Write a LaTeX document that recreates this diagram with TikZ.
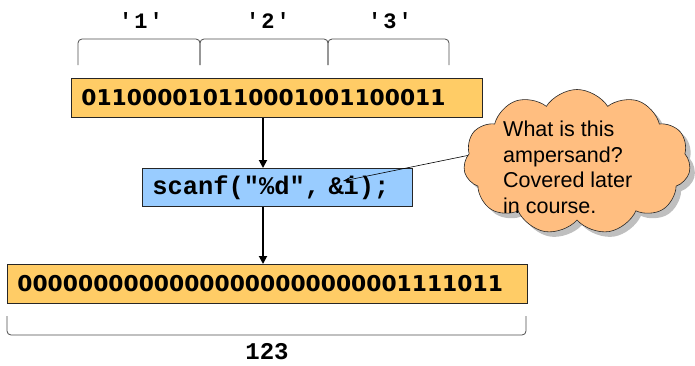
\documentclass[tikz,border=0pt]{standalone}
\usepackage{fontspec}
\usetikzlibrary{shapes.symbols,shadows,arrows.meta,calc}
\newfontfamily\bitfont{DejaVu Sans}
\newfontfamily\codefont{Liberation Mono}
\newfontfamily\lblfont[LetterSpace=9]{Liberation Mono}
\newfontfamily\cloudfont{Liberation Sans}
\definecolor{boxorange}{RGB}{255,204,102}
\definecolor{boxblue}{RGB}{153,204,255}
\definecolor{cloudorange}{RGB}{255,190,128}
\begin{document}
\begin{tikzpicture}[x=1pt,y=-1pt,
  bitbox/.style={draw=black!85, line width=0.8pt, fill=boxorange, minimum height=39pt,
    inner ysep=0pt, inner xsep=10pt, align=left, anchor=north west,
    font=\bitfont\bfseries\fontsize{21.8}{24}\selectfont},
  codebox/.style={draw=black!85, line width=0.8pt, fill=boxblue, minimum height=38pt,
    inner ysep=0pt, inner xsep=10pt, align=left, anchor=north west,
    font=\codefont\bfseries\fontsize{25.4}{27}\selectfont},
  lbl/.style={font=\lblfont\bfseries\fontsize{22}{24}\selectfont, inner sep=0pt},
  brace/.style={draw=black!70, line width=0.8pt, rounded corners=4pt},
  flow/.style={line width=1.8pt, -{Triangle[length=8pt,width=8pt]}},
  callout/.style={line width=0.6pt, -{Stealth[length=8pt,width=5pt]}},
]
\useasboundingbox (0,0) rectangle (695,365);

% braces over top bits
\draw[brace] (78,65) -- (78,39) -- (200,39) -- (200,65);
\draw[brace] (200,65) -- (200,39) -- (328,39) -- (328,65);
\draw[brace] (328,65) -- (328,39) -- (449,39) -- (449,65);
\node[lbl] (l1) at (141,21) {'1'};
\node[lbl] (l2) at (268,21) {'2'};
\node[lbl] (l3) at (390,21) {'3'};

% boxes
\node[bitbox, text width=391pt] (top) at (71,78) {011000010110001001100011};
\node[codebox, text width=250pt] (mid) at (142,168) {scanf("\%d", \&i);};
\node[bitbox, text width=500pt] (bot) at (7,264) {00000000000000000000000001111011};

% flow arrows
\coordinate (ax) at (263,0);
\draw[flow] (top.south -| ax) -- (mid.north -| ax);
\draw[flow] (mid.south -| ax) -- (bot.north -| ax);

% brace under bottom bits
\draw[brace] (7,316) -- (7,335) -- (526,335) -- (526,316);
\node[font=\codefont\bfseries\fontsize{24}{26}\selectfont, inner sep=0pt] (val) at (267,352) {123};

% callout
\coordinate (amp) at (343,181);
\coordinate (cfrom) at (470,155);
\draw[callout] (cfrom) -- (amp);
\node[cloud, cloud puffs=11, cloud puff arc=115, draw=black!85, line width=0.6pt,
  fill=cloudorange, minimum width=227pt, minimum height=145pt,
  drop shadow={shadow xshift=5pt, shadow yshift=-5pt, fill=black!50, opacity=0.5}]
  (cloud) at (577,162) {};
\node[anchor=north west, align=left, inner sep=0pt,
  font=\cloudfont\fontsize{21.5}{25.5}\selectfont] (ctext) at (503,121)
  {What is this\\ampersand?\\Covered later\\in course.};
\end{tikzpicture}
\end{document}
